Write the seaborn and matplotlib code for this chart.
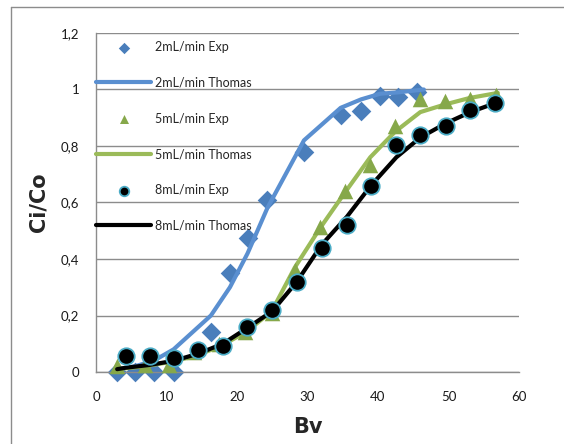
import numpy as np
import pandas as pd
import matplotlib
matplotlib.use("Agg")
import matplotlib.pyplot as plt
from matplotlib.lines import Line2D
from matplotlib.ticker import FuncFormatter
import seaborn as sns

# ---------------- data ----------------
bv_2_exp = [3.0, 5.5, 8.2, 11.0, 16.3, 19.0, 21.5, 24.3, 29.5, 34.7, 37.6, 40.3, 42.9, 45.6]
c_2_exp = [0.0, 0.0, 0.0, 0.0, 0.143, 0.352, 0.474, 0.61, 0.78, 0.91, 0.923, 0.976, 0.974, 0.99]
bv_2_th = [3.0, 5.5, 8.2, 11.0, 16.3, 19.0, 21.5, 24.3, 29.5, 34.7, 37.6, 40.3, 42.9, 46.5]
c_2_th = [0.01, 0.02, 0.04, 0.08, 0.20, 0.30, 0.42, 0.58, 0.82, 0.935, 0.965, 0.985, 0.99, 1.0]

bv_5_exp = [3.0, 6.9, 10.4, 13.9, 17.5, 21.2, 24.9, 28.2, 31.8, 35.3, 38.9, 42.4, 46.0, 49.5, 53.0, 56.8]
c_5_exp = [0.02, 0.025, 0.025, 0.07, 0.10, 0.14, 0.208, 0.36, 0.515, 0.64, 0.734, 0.87, 0.965, 0.958, 0.967, 0.982]
bv_5_th = [3.0, 6.9, 10.4, 13.9, 17.5, 21.2, 24.9, 28.2, 31.8, 35.3, 38.9, 42.4, 46.0, 49.5, 53.0, 57.0]
c_5_th = [0.01, 0.02, 0.035, 0.055, 0.09, 0.14, 0.214, 0.37, 0.51, 0.635, 0.76, 0.85, 0.92, 0.947, 0.97, 0.988]

bv_8_exp = [4.2, 7.6, 11.1, 14.5, 18.0, 21.4, 25.0, 28.5, 32.0, 35.6, 39.0, 42.6, 46.0, 49.6, 53.1, 56.6]
c_8_exp = [0.057, 0.057, 0.051, 0.078, 0.093, 0.158, 0.22, 0.317, 0.44, 0.522, 0.657, 0.805, 0.84, 0.87, 0.929, 0.953]
bv_8_th = [3.0, 4.2, 7.6, 11.1, 14.5, 18.0, 21.4, 25.0, 28.5, 32.0, 35.6, 39.0, 42.6, 46.0, 49.6, 53.1, 57.0]
c_8_th = [0.01, 0.015, 0.025, 0.04, 0.065, 0.10, 0.155, 0.215, 0.32, 0.45, 0.55, 0.66, 0.76, 0.83, 0.88, 0.92, 0.955]

x_ticks = [0, 10, 20, 30, 40, 50, 60]
y_ticks = [0, 0.2, 0.4, 0.6, 0.8, 1.0, 1.2]

labels = ["2mL/min Exp", "2mL/min Thomas", "5mL/min Exp", "5mL/min Thomas",
          "8mL/min Exp", "8mL/min Thomas"]

# ---------------- style ----------------
sns.set_theme(style="white")
plt.rcParams['font.family'] = ['Lato', 'DejaVu Sans']

fig = plt.figure(figsize=(5.64, 4.44), dpi=100)
ax = fig.add_axes([96/564, 1-372/444, (519-96)/564, (372-33)/444])

blue_line = "#5A8FD0"
blue_mark = "#4A7EBB"
green_line = "#9BBB59"
green_mark = "#86A84A"
grid_c = "#8C8C8C"

sns.lineplot(x=bv_2_th, y=c_2_th, ax=ax, color=blue_line, lw=3, label=labels[1],
             zorder=3, sort=False)
sns.scatterplot(x=bv_2_exp, y=c_2_exp, ax=ax, marker="D", s=100, color=blue_mark,
                edgecolor=blue_mark, linewidth=0, label=labels[0], zorder=2, clip_on=False)
sns.lineplot(x=bv_5_th, y=c_5_th, ax=ax, color=green_line, lw=3, label=labels[3],
             zorder=4, sort=False)
sns.scatterplot(x=bv_5_exp, y=c_5_exp, ax=ax, marker="^", s=125, color=green_mark,
                edgecolor=green_mark, linewidth=0, label=labels[2], zorder=5, clip_on=False)
sns.lineplot(x=bv_8_th, y=c_8_th, ax=ax, color="black", lw=3, label=labels[5],
             zorder=6, sort=False)
sns.scatterplot(x=bv_8_exp, y=c_8_exp, ax=ax, marker="o", s=140, color="black",
                edgecolor="#4BACC6", linewidth=1.3, label=labels[4], zorder=7, clip_on=False)

ax.set_xlim(0, 60)
ax.set_ylim(0, 1.2)
ax.set_xticks(x_ticks)
ax.set_yticks(y_ticks)
ax.yaxis.set_major_formatter(FuncFormatter(lambda v, p: ("%g" % round(v, 1)).replace(".", ",")))
ax.tick_params(axis="both", labelsize=9.5, colors="#1a1a1a", length=4, width=0.9,
               direction="out", color=grid_c)
ax.tick_params(axis="x", pad=10)
ax.tick_params(axis="y", pad=8)

ax.grid(axis="y", color=grid_c, lw=1.0)
ax.grid(axis="x", visible=False)
ax.set_axisbelow(True)
for s in ["top", "right"]:
    ax.spines[s].set_visible(False)
for s in ["left", "bottom"]:
    ax.spines[s].set_color(grid_c)
    ax.spines[s].set_linewidth(1.0)

ax.set_xlabel("Bv", fontsize=15, fontweight="bold", labelpad=10, family="DejaVu Sans")
ax.set_ylabel("Ci/Co", fontsize=15, fontweight="bold", labelpad=9, family="DejaVu Sans")

# legend in reference order
h, l = ax.get_legend_handles_labels()
hmap = dict(zip(l, h))
leg = ax.legend([hmap[k] for k in labels], labels, loc="upper left",
                bbox_to_anchor=(96/564, 1-41/444), bbox_transform=fig.transFigure,
                frameon=False, fontsize=9, handlelength=4.4, handletextpad=0.3,
                labelspacing=1.9, borderpad=0, borderaxespad=0, markerscale=0.58,
                scatterpoints=1)

# chart border (left and top)
fig.add_artist(Line2D([11/564, 11/564], [0, 1-7/444], color="#8C8C8C", lw=1.0,
                      transform=fig.transFigure))
fig.add_artist(Line2D([11/564, 1], [1-7/444, 1-7/444], color="#8C8C8C", lw=1.0,
                      transform=fig.transFigure))

fig.savefig("out.png", dpi=100)
